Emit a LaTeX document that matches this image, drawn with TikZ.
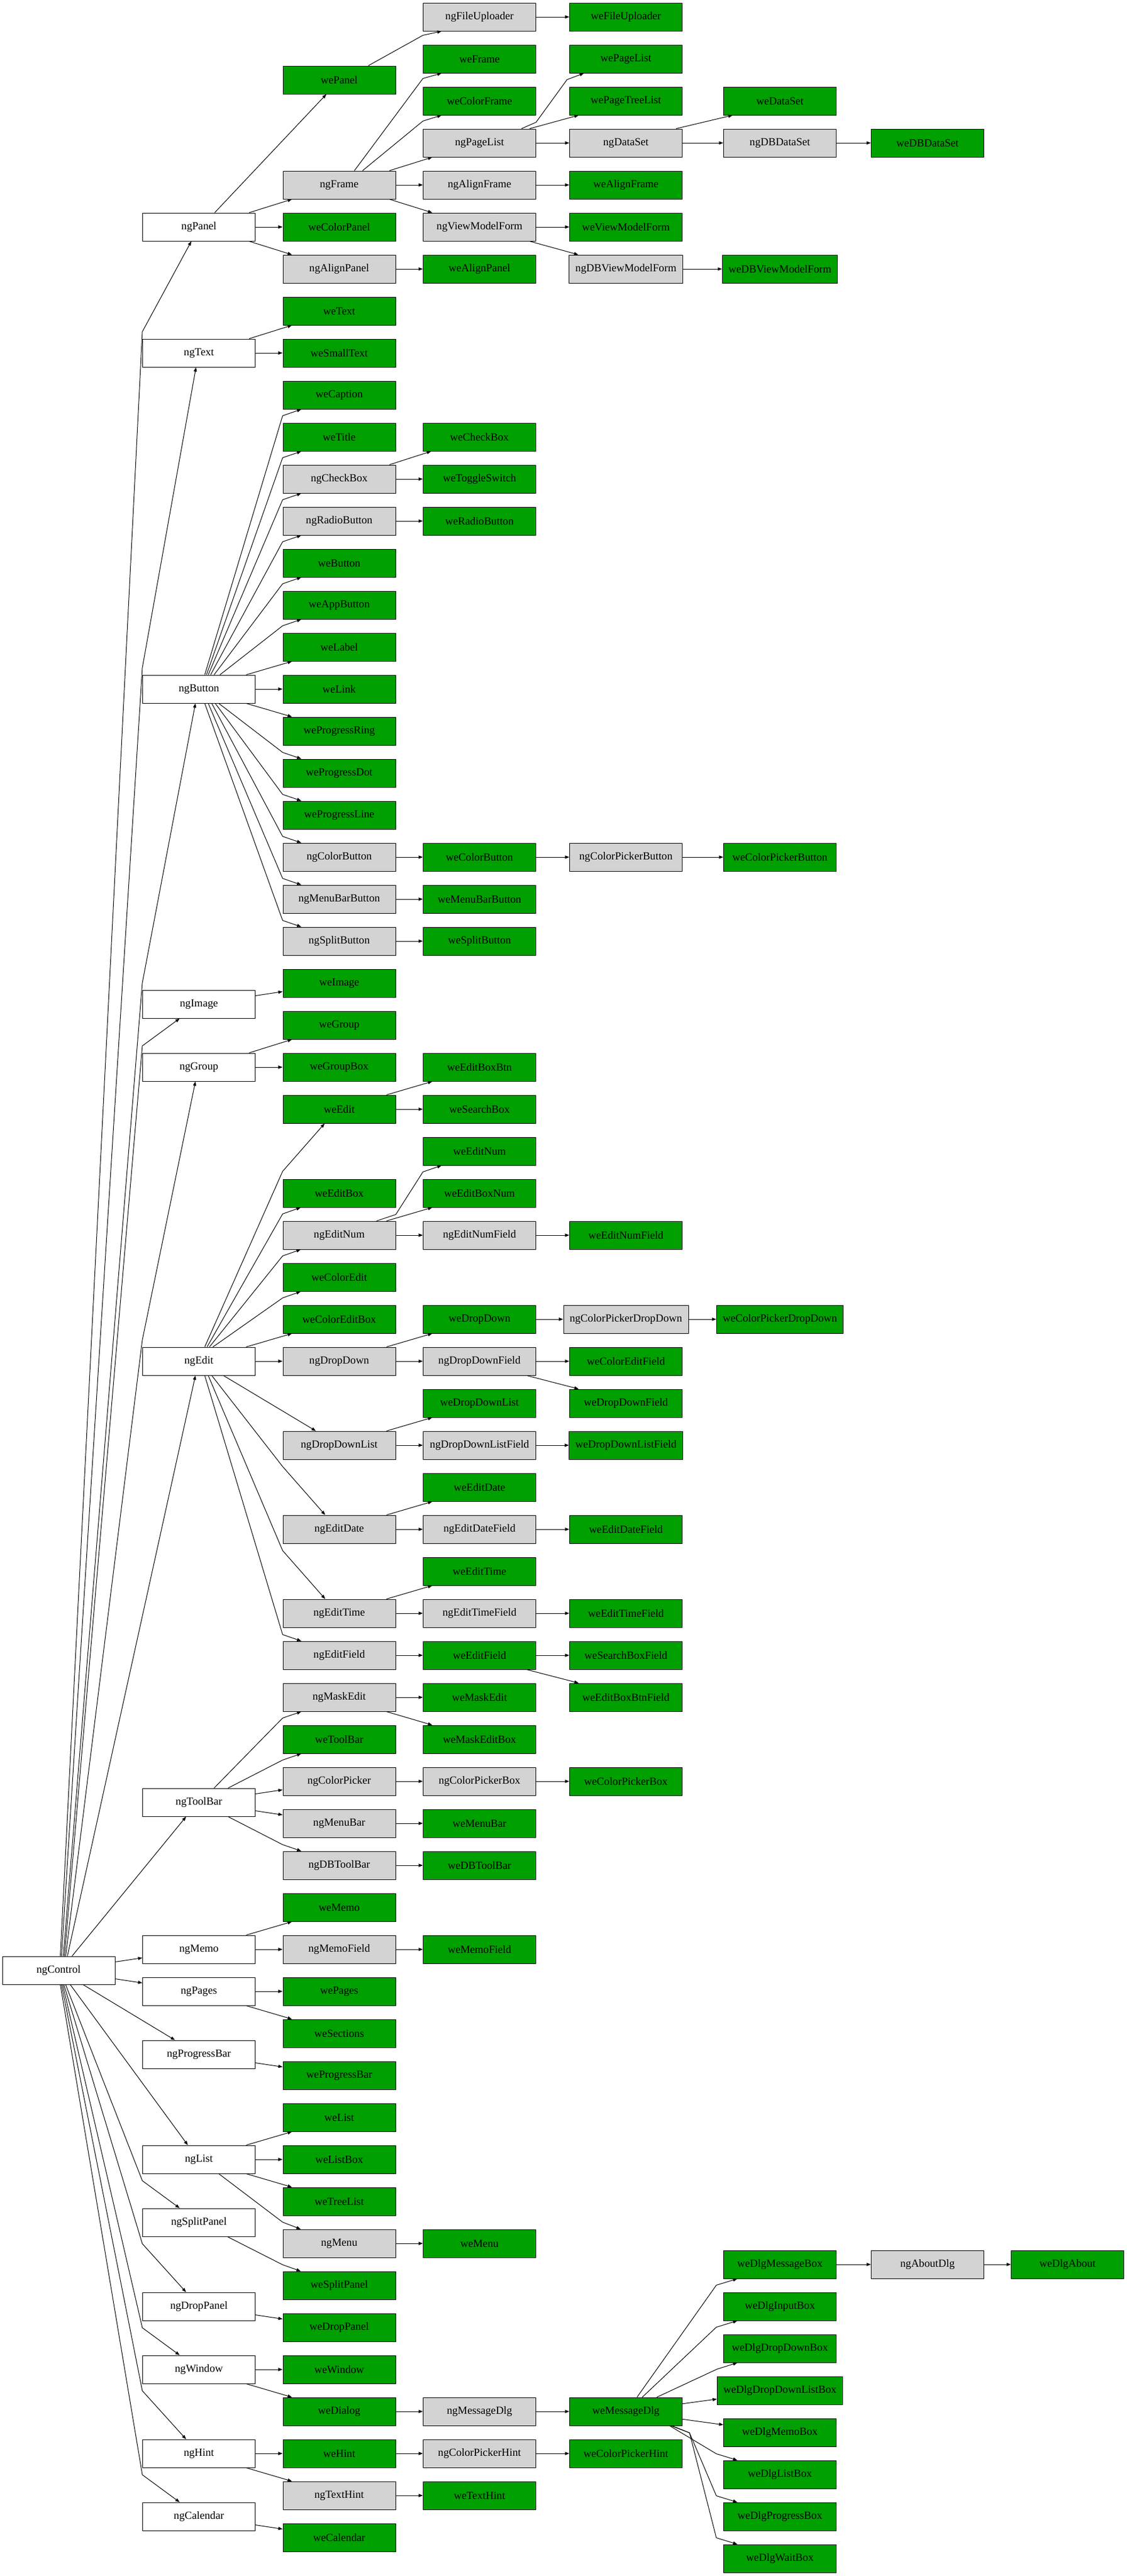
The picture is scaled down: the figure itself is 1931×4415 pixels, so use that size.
\documentclass[tikz,border=0pt]{standalone}
\usepackage{fontspec}
\setmainfont{Liberation Serif}
\usetikzlibrary{arrows.meta}
\definecolor{wegreen}{RGB}{0,160,0}
\definecolor{nggray}{RGB}{211,211,211}
\begin{document}
\begin{tikzpicture}[x=0.75pt,y=0.75pt,
  base/.style={fill=white},
  ng/.style={fill=nggray},
  we/.style={fill=wegreen},
  link/.style={draw=black, line width=0.75pt, -{Triangle[length=5.5pt,width=4pt]}}]
\tikzstyle{every node}+=[draw=black, line width=0.75pt, minimum width=144.75pt, minimum height=36pt, inner xsep=7.92pt, inner ysep=0pt, font=\fontsize{14pt}{16pt}\selectfont]
\useasboundingbox (0,0) rectangle (1931,-4415);
\node [base] (ngControl) at (100.5,-3377) {ngControl};
\node [base] (ngPanel) at (341,-389) {ngPanel};
\node [base] (ngText) at (341,-605) {ngText};
\node [base] (ngButton) at (341,-1181) {ngButton};
\node [base] (ngImage) at (341,-1721) {ngImage};
\node [base] (ngGroup) at (341,-1829) {ngGroup};
\node [base] (ngEdit) at (341,-2333) {ngEdit};
\node [base] (ngToolBar) at (341,-3089) {ngToolBar};
\node [base] (ngMemo) at (341,-3341) {ngMemo};
\node [base] (ngPages) at (341,-3413) {ngPages};
\node [base] (ngProgressBar) at (341,-3521) {ngProgressBar};
\node [base] (ngList) at (341,-3701) {ngList};
\node [base] (ngSplitPanel) at (341,-3809) {ngSplitPanel};
\node [base] (ngDropPanel) at (341,-3953) {ngDropPanel};
\node [base] (ngWindow) at (341,-4061) {ngWindow};
\node [base] (ngHint) at (341,-4205) {ngHint};
\node [base] (ngCalendar) at (341,-4313) {ngCalendar};
\node [we] (wePanel) at (581.5,-137) {wePanel};
\node [ng] (ngFrame) at (581.5,-317) {ngFrame};
\node [we] (weColorPanel) at (581.5,-389) {weColorPanel};
\node [ng] (ngAlignPanel) at (581.5,-461) {ngAlignPanel};
\node [we] (weText) at (581.5,-533) {weText};
\node [we] (weSmallText) at (581.5,-605) {weSmallText};
\node [we] (weCaption) at (581.5,-677) {weCaption};
\node [we] (weTitle) at (581.5,-749) {weTitle};
\node [ng] (ngCheckBox) at (581.5,-821) {ngCheckBox};
\node [ng] (ngRadioButton) at (581.5,-893) {ngRadioButton};
\node [we] (weButton) at (581.5,-965) {weButton};
\node [we] (weAppButton) at (581.5,-1037) {weAppButton};
\node [we] (weLabel) at (581.5,-1109) {weLabel};
\node [we] (weLink) at (581.5,-1181) {weLink};
\node [we] (weProgressRing) at (581.5,-1253) {weProgressRing};
\node [we] (weProgressDot) at (581.5,-1325) {weProgressDot};
\node [we] (weProgressLine) at (581.5,-1397) {weProgressLine};
\node [ng] (ngColorButton) at (581.5,-1469) {ngColorButton};
\node [ng] (ngMenuBarButton) at (581.5,-1541) {ngMenuBarButton};
\node [ng] (ngSplitButton) at (581.5,-1613) {ngSplitButton};
\node [we] (weImage) at (581.5,-1685) {weImage};
\node [we] (weGroup) at (581.5,-1757) {weGroup};
\node [we] (weGroupBox) at (581.5,-1829) {weGroupBox};
\node [we] (weEdit) at (581.5,-1901) {weEdit};
\node [we] (weEditBox) at (581.5,-2045) {weEditBox};
\node [ng] (ngEditNum) at (581.5,-2117) {ngEditNum};
\node [we] (weColorEdit) at (581.5,-2189) {weColorEdit};
\node [we] (weColorEditBox) at (581.5,-2261) {weColorEditBox};
\node [ng] (ngDropDown) at (581.5,-2333) {ngDropDown};
\node [ng] (ngDropDownList) at (581.5,-2477) {ngDropDownList};
\node [ng] (ngEditDate) at (581.5,-2621) {ngEditDate};
\node [ng] (ngEditTime) at (581.5,-2765) {ngEditTime};
\node [ng] (ngEditField) at (581.5,-2837) {ngEditField};
\node [ng] (ngMaskEdit) at (581.5,-2909) {ngMaskEdit};
\node [we] (weToolBar) at (581.5,-2981) {weToolBar};
\node [ng] (ngColorPicker) at (581.5,-3053) {ngColorPicker};
\node [ng] (ngMenuBar) at (581.5,-3125) {ngMenuBar};
\node [ng] (ngDBToolBar) at (581.5,-3197) {ngDBToolBar};
\node [we] (weMemo) at (581.5,-3269) {weMemo};
\node [ng] (ngMemoField) at (581.5,-3341) {ngMemoField};
\node [we] (wePages) at (581.5,-3413) {wePages};
\node [we] (weSections) at (581.5,-3485) {weSections};
\node [we] (weProgressBar) at (581.5,-3557) {weProgressBar};
\node [we] (weList) at (581.5,-3629) {weList};
\node [we] (weListBox) at (581.5,-3701) {weListBox};
\node [we] (weTreeList) at (581.5,-3773) {weTreeList};
\node [ng] (ngMenu) at (581.5,-3845) {ngMenu};
\node [we] (weSplitPanel) at (581.5,-3917) {weSplitPanel};
\node [we] (weDropPanel) at (581.5,-3989) {weDropPanel};
\node [we] (weWindow) at (581.5,-4061) {weWindow};
\node [we] (weDialog) at (581.5,-4133) {weDialog};
\node [we] (weHint) at (581.5,-4205) {weHint};
\node [ng] (ngTextHint) at (581.5,-4277) {ngTextHint};
\node [we] (weCalendar) at (581.5,-4349) {weCalendar};
\node [ng] (ngFileUploader) at (822,-29) {ngFileUploader};
\node [we] (weFrame) at (822,-101) {weFrame};
\node [we] (weColorFrame) at (822,-173) {weColorFrame};
\node [ng] (ngPageList) at (822,-245) {ngPageList};
\node [ng] (ngAlignFrame) at (822,-317) {ngAlignFrame};
\node [ng] (ngViewModelForm) at (822,-389) {ngViewModelForm};
\node [we] (weAlignPanel) at (822,-461) {weAlignPanel};
\node [we] (weCheckBox) at (822,-749) {weCheckBox};
\node [we] (weToggleSwitch) at (822,-821) {weToggleSwitch};
\node [we] (weRadioButton) at (822,-893) {weRadioButton};
\node [we] (weColorButton) at (822,-1469) {weColorButton};
\node [we] (weMenuBarButton) at (822,-1541) {weMenuBarButton};
\node [we] (weSplitButton) at (822,-1613) {weSplitButton};
\node [we] (weEditBoxBtn) at (822,-1829) {weEditBoxBtn};
\node [we] (weSearchBox) at (822,-1901) {weSearchBox};
\node [we] (weEditNum) at (822,-1973) {weEditNum};
\node [we] (weEditBoxNum) at (822,-2045) {weEditBoxNum};
\node [ng] (ngEditNumField) at (822,-2117) {ngEditNumField};
\node [we] (weDropDown) at (822,-2261) {weDropDown};
\node [ng] (ngDropDownField) at (822,-2333) {ngDropDownField};
\node [we] (weDropDownList) at (822,-2405) {weDropDownList};
\node [ng] (ngDropDownListField) at (822,-2477) {ngDropDownListField};
\node [we] (weEditDate) at (822,-2549) {weEditDate};
\node [ng] (ngEditDateField) at (822,-2621) {ngEditDateField};
\node [we] (weEditTime) at (822,-2693) {weEditTime};
\node [ng] (ngEditTimeField) at (822,-2765) {ngEditTimeField};
\node [we] (weEditField) at (822,-2837) {weEditField};
\node [we] (weMaskEdit) at (822,-2909) {weMaskEdit};
\node [we] (weMaskEditBox) at (822,-2981) {weMaskEditBox};
\node [ng] (ngColorPickerBox) at (822,-3053) {ngColorPickerBox};
\node [we] (weMenuBar) at (822,-3125) {weMenuBar};
\node [we] (weDBToolBar) at (822,-3197) {weDBToolBar};
\node [we] (weMemoField) at (822,-3341) {weMemoField};
\node [we] (weMenu) at (822,-3845) {weMenu};
\node [ng] (ngMessageDlg) at (822,-4133) {ngMessageDlg};
\node [ng] (ngColorPickerHint) at (822,-4205) {ngColorPickerHint};
\node [we] (weTextHint) at (822,-4277) {weTextHint};
\node [we] (weFileUploader) at (1073,-29) {weFileUploader};
\node [we] (wePageList) at (1073,-101) {wePageList};
\node [we] (wePageTreeList) at (1073,-173) {wePageTreeList};
\node [ng] (ngDataSet) at (1073,-245) {ngDataSet};
\node [we] (weAlignFrame) at (1073,-317) {weAlignFrame};
\node [we] (weViewModelForm) at (1073,-389) {weViewModelForm};
\node [ng] (ngDBViewModelForm) at (1073,-461) {ngDBViewModelForm};
\node [ng] (ngColorPickerButton) at (1073,-1469) {ngColorPickerButton};
\node [we] (weEditNumField) at (1073,-2117) {weEditNumField};
\node [ng] (ngColorPickerDropDown) at (1073,-2261) {ngColorPickerDropDown};
\node [we] (weColorEditField) at (1073,-2333) {weColorEditField};
\node [we] (weDropDownField) at (1073,-2405) {weDropDownField};
\node [we] (weDropDownListField) at (1073,-2477) {weDropDownListField};
\node [we] (weEditDateField) at (1073,-2621) {weEditDateField};
\node [we] (weEditTimeField) at (1073,-2765) {weEditTimeField};
\node [we] (weSearchBoxField) at (1073,-2837) {weSearchBoxField};
\node [we] (weEditBoxBtnField) at (1073,-2909) {weEditBoxBtnField};
\node [we] (weColorPickerBox) at (1073,-3053) {weColorPickerBox};
\node [we] (weMessageDlg) at (1073,-4133) {weMessageDlg};
\node [we] (weColorPickerHint) at (1073,-4205) {weColorPickerHint};
\node [we] (weDataSet) at (1337,-173) {weDataSet};
\node [ng] (ngDBDataSet) at (1337,-245) {ngDBDataSet};
\node [we] (weDBViewModelForm) at (1337,-461) {weDBViewModelForm};
\node [we] (weColorPickerButton) at (1337,-1469) {weColorPickerButton};
\node [we] (weColorPickerDropDown) at (1337,-2261) {weColorPickerDropDown};
\node [we] (weDlgMessageBox) at (1337,-3881) {weDlgMessageBox};
\node [we] (weDlgInputBox) at (1337,-3953) {weDlgInputBox};
\node [we] (weDlgDropDownBox) at (1337,-4025) {weDlgDropDownBox};
\node [we] (weDlgDropDownListBox) at (1337,-4097) {weDlgDropDownListBox};
\node [we] (weDlgMemoBox) at (1337,-4169) {weDlgMemoBox};
\node [we] (weDlgListBox) at (1337,-4241) {weDlgListBox};
\node [we] (weDlgProgressBox) at (1337,-4313) {weDlgProgressBox};
\node [we] (weDlgWaitBox) at (1337,-4385) {weDlgWaitBox};
\node [we] (weDBDataSet) at (1590,-245) {weDBDataSet};
\node [ng] (ngAboutDlg) at (1590,-3881) {ngAboutDlg};
\node [we] (weDlgAbout) at (1830,-3881) {weDlgAbout};
\draw [link] ([shift={(3,0)}]ngControl.north) -- ([shift={(0,12)}]ngText.north west) -- ([shift={(-13,0)}]ngPanel.south);
\draw [link] ([shift={(5,0)}]ngControl.north) -- ([shift={(0,12)}]ngButton.north west) -- ([shift={(-5,0)}]ngText.south);
\draw [link] ([shift={(8,0)}]ngControl.north) -- ([shift={(0,12)}]ngImage.north west) -- ([shift={(-6,0)}]ngButton.south);
\draw [link] ([shift={(10,0)}]ngControl.north) -- ([shift={(0,12)}]ngGroup.north west) -- ([shift={(-33,0)}]ngImage.south);
\draw [link] ([shift={(12,0)}]ngControl.north) -- ([shift={(0,12)}]ngEdit.north west) -- ([shift={(-6,0)}]ngGroup.south);
\draw [link] ([shift={(15,0)}]ngControl.north) -- ([shift={(-6,0)}]ngEdit.south);
\draw [link] ([shift={(23,0)}]ngControl.north) -- ([shift={(-22,0)}]ngToolBar.south);
\draw [link] (ngControl) -- (ngMemo);
\draw [link] (ngControl) -- (ngPages);
\draw [link] ([shift={(42,0)}]ngControl.south) -- ([shift={(-41,0)}]ngProgressBar.north);
\draw [link] ([shift={(20,0)}]ngControl.south) -- ([shift={(-19,0)}]ngList.north);
\draw [link] ([shift={(12,0)}]ngControl.south) -- ([shift={(0,-12)}]ngList.south west) -- ([shift={(-33,0)}]ngSplitPanel.north);
\draw [link] ([shift={(9,0)}]ngControl.south) -- ([shift={(0,-12)}]ngSplitPanel.south west) -- ([shift={(-22,0)}]ngDropPanel.north);
\draw [link] ([shift={(7,0)}]ngControl.south) -- ([shift={(0,-12)}]ngDropPanel.south west) -- ([shift={(-33,0)}]ngWindow.north);
\draw [link] ([shift={(5,0)}]ngControl.south) -- ([shift={(0,-12)}]ngWindow.south west) -- ([shift={(-22,0)}]ngHint.north);
\draw [link] ([shift={(3,0)}]ngControl.south) -- ([shift={(0,-12)}]ngHint.south west) -- ([shift={(-33,0)}]ngCalendar.north);
\draw [link] ([shift={(27,0)}]ngPanel.north) -- ([shift={(-22,0)}]wePanel.south);
\draw [link] ([shift={(-11,0)}]ngPanel.north east) -- ([shift={(16,0)}]ngFrame.south west);
\draw [link] (ngPanel) -- (weColorPanel);
\draw [link] ([shift={(-11,0)}]ngPanel.south east) -- ([shift={(16,0)}]ngAlignPanel.north west);
\draw [link] ([shift={(-47,0)}]wePanel.north east) -- ([shift={(0,-7)}]ngFileUploader.south west) -- ([shift={(32,0)}]ngFileUploader.south west);
\draw [link] (ngFileUploader) -- (weFileUploader);
\draw [link] ([shift={(26,0)}]ngFrame.north) -- ([shift={(0,14)}]weColorFrame.north west) -- ([shift={(32,0)}]weFrame.south west);
\draw [link] ([shift={(40,0)}]ngFrame.north) -- ([shift={(0,13)}]ngPageList.north west) -- ([shift={(32,0)}]weColorFrame.south west);
\draw [link] ([shift={(-11,0)}]ngFrame.north east) -- ([shift={(16,0)}]ngPageList.south west);
\draw [link] (ngFrame) -- (ngAlignFrame);
\draw [link] ([shift={(-11,0)}]ngFrame.south east) -- ([shift={(16,0)}]ngViewModelForm.north west);
\draw [link] ([shift={(72,0)}]ngPageList.north) -- ([shift={(0,11)}]ngPageList.north east) -- ([shift={(-4,-11)}]wePageList.south west) -- ([shift={(25,0)}]wePageList.south west);
\draw [link] ([shift={(-11,0)}]ngPageList.north east) -- ([shift={(16,0)}]wePageTreeList.south west);
\draw [link] (ngPageList) -- (ngDataSet);
\draw [link] ([shift={(-11,0)}]ngDataSet.north east) -- ([shift={(16,0)}]weDataSet.south west);
\draw [link] (ngDataSet) -- (ngDBDataSet);
\draw [link] (ngDBDataSet) -- (weDBDataSet);
\draw [link] (ngAlignFrame) -- (weAlignFrame);
\draw [link] (ngViewModelForm) -- (weViewModelForm);
\draw [link] ([shift={(-11,0)}]ngViewModelForm.south east) -- ([shift={(16,0)}]ngDBViewModelForm.north west);
\draw [link] (ngDBViewModelForm) -- (weDBViewModelForm);
\draw [link] (ngAlignPanel) -- (weAlignPanel);
\draw [link] ([shift={(-11,0)}]ngText.north east) -- ([shift={(16,0)}]weText.south west);
\draw [link] (ngText) -- (weSmallText);
\draw [link] ([shift={(10,0)}]ngButton.north) -- ([shift={(0,12)}]weTitle.north west) -- ([shift={(32,0)}]weCaption.south west);
\draw [link] ([shift={(13,0)}]ngButton.north) -- ([shift={(0,12)}]ngCheckBox.north west) -- ([shift={(32,0)}]weTitle.south west);
\draw [link] ([shift={(16,0)}]ngButton.north) -- ([shift={(0,12)}]ngRadioButton.north west) -- ([shift={(32,0)}]ngCheckBox.south west);
\draw [link] ([shift={(20,0)}]ngButton.north) -- ([shift={(0,12)}]weButton.north west) -- ([shift={(32,0)}]ngRadioButton.south west);
\draw [link] ([shift={(26,0)}]ngButton.north) -- ([shift={(0,12)}]weAppButton.north west) -- ([shift={(32,0)}]weButton.south west);
\draw [link] ([shift={(36,0)}]ngButton.north) -- ([shift={(0,12)}]weLabel.north west) -- ([shift={(32,0)}]weAppButton.south west);
\draw [link] ([shift={(-16,0)}]ngButton.north east) -- ([shift={(16,0)}]weLabel.south west);
\draw [link] (ngButton) -- (weLink);
\draw [link] ([shift={(-16,0)}]ngButton.south east) -- ([shift={(16,0)}]weProgressRing.north west);
\draw [link] ([shift={(34,0)}]ngButton.south) -- ([shift={(0,-12)}]weProgressRing.south west) -- ([shift={(32,0)}]weProgressDot.north west);
\draw [link] ([shift={(28,0)}]ngButton.south) -- ([shift={(0,-12)}]weProgressDot.south west) -- ([shift={(32,0)}]weProgressLine.north west);
\draw [link] ([shift={(22,0)}]ngButton.south) -- ([shift={(0,-12)}]weProgressLine.south west) -- ([shift={(32,0)}]ngColorButton.north west);
\draw [link] ([shift={(16,0)}]ngButton.south) -- ([shift={(0,-12)}]ngColorButton.south west) -- ([shift={(32,0)}]ngMenuBarButton.north west);
\draw [link] ([shift={(10,0)}]ngButton.south) -- ([shift={(0,-12)}]ngMenuBarButton.south west) -- ([shift={(32,0)}]ngSplitButton.north west);
\draw [link] ([shift={(-11,0)}]ngCheckBox.north east) -- ([shift={(14,0)}]weCheckBox.south west);
\draw [link] (ngCheckBox) -- (weToggleSwitch);
\draw [link] (ngRadioButton) -- (weRadioButton);
\draw [link] (ngColorButton) -- (weColorButton);
\draw [link] (weColorButton) -- (ngColorPickerButton);
\draw [link] (ngColorPickerButton) -- (weColorPickerButton);
\draw [link] (ngMenuBarButton) -- (weMenuBarButton);
\draw [link] (ngSplitButton) -- (weSplitButton);
\draw [link] (ngImage) -- (weImage);
\draw [link] ([shift={(-11,0)}]ngGroup.north east) -- ([shift={(16,0)}]weGroup.south west);
\draw [link] (ngGroup) -- (weGroupBox);
\draw [link] ([shift={(10,0)}]ngEdit.north) -- ([shift={(0,13)}]weEditBox.north west) -- ([shift={(72,0)}]weEdit.south west);
\draw [link] ([shift={(14,0)}]ngEdit.north) -- ([shift={(0,12)}]ngEditNum.north west) -- ([shift={(31,0)}]weEditBox.south west);
\draw [link] ([shift={(18,0)}]ngEdit.north) -- ([shift={(0,12)}]weColorEdit.north west) -- ([shift={(31,0)}]ngEditNum.south west);
\draw [link] ([shift={(24,0)}]ngEdit.north) -- ([shift={(0,12)}]weColorEditBox.north west) -- ([shift={(31,0)}]weColorEdit.south west);
\draw [link] ([shift={(-16,0)}]ngEdit.north east) -- ([shift={(16,0)}]weColorEditBox.south west);
\draw [link] (ngEdit) -- (ngDropDown);
\draw [link] ([shift={(42,0)}]ngEdit.south) -- ([shift={(57,0)}]ngDropDownList.north west);
\draw [link] ([shift={(22,0)}]ngEdit.south) -- ([shift={(0,-12)}]ngDropDownList.south west) -- ([shift={(73,0)}]ngEditDate.north west);
\draw [link] ([shift={(16,0)}]ngEdit.south) -- ([shift={(0,-12)}]ngEditDate.south west) -- ([shift={(73,0)}]ngEditTime.north west);
\draw [link] ([shift={(10,0)}]ngEdit.south) -- ([shift={(0,-12)}]ngEditTime.south west) -- ([shift={(32,0)}]ngEditField.north west);
\draw [link] ([shift={(-16,0)}]weEdit.north east) -- ([shift={(16,0)}]weEditBoxBtn.south west);
\draw [link] (weEdit) -- (weSearchBox);
\draw [link] ([shift={(64,0)}]ngEditNum.north) -- ([shift={(0,11)}]ngEditNum.north east) -- ([shift={(0,-11)}]weEditNum.south west) -- ([shift={(32,0)}]weEditNum.south west);
\draw [link] ([shift={(-16,0)}]ngEditNum.north east) -- ([shift={(16,0)}]weEditBoxNum.south west);
\draw [link] (ngEditNum) -- (ngEditNumField);
\draw [link] (ngEditNumField) -- (weEditNumField);
\draw [link] ([shift={(-16,0)}]ngDropDown.north east) -- ([shift={(16,0)}]weDropDown.south west);
\draw [link] (ngDropDown) -- (ngDropDownField);
\draw [link] (weDropDown) -- (ngColorPickerDropDown);
\draw [link] (ngColorPickerDropDown) -- (weColorPickerDropDown);
\draw [link] (ngDropDownField) -- (weColorEditField);
\draw [link] ([shift={(-16,0)}]ngDropDownField.south east) -- ([shift={(16,0)}]weDropDownField.north west);
\draw [link] ([shift={(-16,0)}]ngDropDownList.north east) -- ([shift={(16,0)}]weDropDownList.south west);
\draw [link] (ngDropDownList) -- (ngDropDownListField);
\draw [link] (ngDropDownListField) -- (weDropDownListField);
\draw [link] ([shift={(-16,0)}]ngEditDate.north east) -- ([shift={(16,0)}]weEditDate.south west);
\draw [link] (ngEditDate) -- (ngEditDateField);
\draw [link] (ngEditDateField) -- (weEditDateField);
\draw [link] ([shift={(-16,0)}]ngEditTime.north east) -- ([shift={(16,0)}]weEditTime.south west);
\draw [link] (ngEditTime) -- (ngEditTimeField);
\draw [link] (ngEditTimeField) -- (weEditTimeField);
\draw [link] (ngEditField) -- (weEditField);
\draw [link] (weEditField) -- (weSearchBoxField);
\draw [link] ([shift={(-16,0)}]weEditField.south east) -- ([shift={(16,0)}]weEditBoxBtnField.north west);
\draw [link] ([shift={(26,0)}]ngToolBar.north) -- ([shift={(0,12)}]weToolBar.north west) -- ([shift={(32,0)}]ngMaskEdit.south west);
\draw [link] ([shift={(50,0)}]ngToolBar.north) -- ([shift={(0,12)}]ngColorPicker.north west) -- ([shift={(32,0)}]weToolBar.south west);
\draw [link] (ngToolBar) -- (ngColorPicker);
\draw [link] (ngToolBar) -- (ngMenuBar);
\draw [link] ([shift={(50,0)}]ngToolBar.south) -- ([shift={(0,-12)}]ngMenuBar.south west) -- ([shift={(32,0)}]ngDBToolBar.north west);
\draw [link] (ngMaskEdit) -- (weMaskEdit);
\draw [link] ([shift={(-16,0)}]ngMaskEdit.south east) -- ([shift={(16,0)}]weMaskEditBox.north west);
\draw [link] (ngColorPicker) -- (ngColorPickerBox);
\draw [link] (ngColorPickerBox) -- (weColorPickerBox);
\draw [link] (ngMenuBar) -- (weMenuBar);
\draw [link] (ngDBToolBar) -- (weDBToolBar);
\draw [link] ([shift={(-16,0)}]ngMemo.north east) -- ([shift={(16,0)}]weMemo.south west);
\draw [link] (ngMemo) -- (ngMemoField);
\draw [link] (ngMemoField) -- (weMemoField);
\draw [link] (ngPages) -- (wePages);
\draw [link] ([shift={(-16,0)}]ngPages.south east) -- ([shift={(16,0)}]weSections.north west);
\draw [link] (ngProgressBar) -- (weProgressBar);
\draw [link] ([shift={(-16,0)}]ngList.north east) -- ([shift={(16,0)}]weList.south west);
\draw [link] (ngList) -- (weListBox);
\draw [link] ([shift={(-16,0)}]ngList.south east) -- ([shift={(16,0)}]weTreeList.north west);
\draw [link] ([shift={(34,0)}]ngList.south) -- ([shift={(0,-11)}]weTreeList.south west) -- ([shift={(31,0)}]ngMenu.north west);
\draw [link] (ngMenu) -- (weMenu);
\draw [link] ([shift={(49,0)}]ngSplitPanel.south) -- ([shift={(0,-12)}]ngMenu.south west) -- ([shift={(31,0)}]weSplitPanel.north west);
\draw [link] (ngDropPanel) -- (weDropPanel);
\draw [link] (ngWindow) -- (weWindow);
\draw [link] ([shift={(-16,0)}]ngWindow.south east) -- ([shift={(16,0)}]weDialog.north west);
\draw [link] (weDialog) -- (ngMessageDlg);
\draw [link] (ngMessageDlg) -- (weMessageDlg);
\draw [link] ([shift={(19,0)}]weMessageDlg.north) -- ([shift={(-12,12)}]weDlgInputBox.north west) -- ([shift={(24,0)}]weDlgMessageBox.south west);
\draw [link] ([shift={(28,0)}]weMessageDlg.north) -- ([shift={(-12,12)}]weDlgDropDownBox.north west) -- ([shift={(24,0)}]weDlgInputBox.south west);
\draw [link] ([shift={(53,0)}]weMessageDlg.north) -- ([shift={(0,12)}]weDlgDropDownListBox.north west) -- ([shift={(24,0)}]weDlgDropDownBox.south west);
\draw [link] (weMessageDlg) -- (weDlgDropDownListBox);
\draw [link] (weMessageDlg) -- (weDlgMemoBox);
\draw [link] ([shift={(-22,0)}]weMessageDlg.south east) -- ([shift={(-12,-12)}]weDlgMemoBox.south west) -- ([shift={(24,0)}]weDlgListBox.north west);
\draw [link] ([shift={(-20,0)}]weMessageDlg.south east) -- ([shift={(12,-12)}]weMessageDlg.south east) -- ([shift={(-12,-12)}]weDlgListBox.south west) -- ([shift={(24,0)}]weDlgProgressBox.north west);
\draw [link] ([shift={(-18,0)}]weMessageDlg.south east) -- ([shift={(12,-12)}]weMessageDlg.south east) -- ([shift={(-12,-12)}]weDlgProgressBox.south west) -- ([shift={(24,0)}]weDlgWaitBox.north west);
\draw [link] (weDlgMessageBox) -- (ngAboutDlg);
\draw [link] (ngAboutDlg) -- (weDlgAbout);
\draw [link] (ngHint) -- (weHint);
\draw [link] ([shift={(-16,0)}]ngHint.south east) -- ([shift={(16,0)}]ngTextHint.north west);
\draw [link] (weHint) -- (ngColorPickerHint);
\draw [link] (ngColorPickerHint) -- (weColorPickerHint);
\draw [link] (ngTextHint) -- (weTextHint);
\draw [link] (ngCalendar) -- (weCalendar);
\end{tikzpicture}
\end{document}
